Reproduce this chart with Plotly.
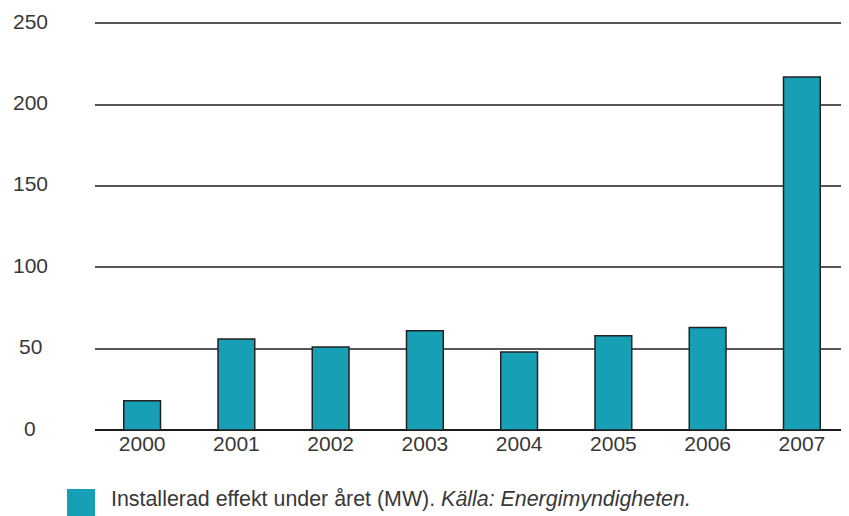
import plotly.graph_objects as go

years = ["2000", "2001", "2002", "2003", "2004", "2005", "2006", "2007"]
installed_mw = [18, 56, 51, 61, 48, 58, 63, 217]
y_ticks = [0, 50, 100, 150, 200, 250]
legend_text = "Installerad effekt under året (MW). <i>Källa: Energimyndigheten.</i>"

# the page body adds an 8px margin; lay out in window pixels minus that offset
OFF = 8
W, H = 849 - OFF, 516 - OFF
L, R, B = 95 - OFF, 0, 516 - 430
PX_PER_UNIT = (430 - 23) / 250
Y_MAX = 252
T = H - B - round(Y_MAX * PX_PER_UNIT)
FONT = "Liberation Sans"
FS = 21
TXT = "#383838"
BAR = "#179fb6"

fig = go.Figure()
fig.add_trace(go.Bar(
    x=years, y=installed_mw, width=0.39,
    marker=dict(color=BAR, line=dict(color="#222222", width=1.5)),
    showlegend=False, hoverinfo="x+y",
))

fig.update_layout(
    width=W, height=H,
    margin=dict(l=L, r=R, t=T, b=B, pad=0, autoexpand=False),
    paper_bgcolor="white", plot_bgcolor="white",
    font=dict(family=FONT, size=FS, color=TXT),
    showlegend=False,
    xaxis=dict(type="category", range=[-0.5, 7.5], showgrid=False,
               showline=False, zeroline=False, ticks="", automargin=False,
               tickfont=dict(size=FS, color=TXT), ticklabelstandoff=-1),
    yaxis=dict(range=[0, Y_MAX], tickvals=y_ticks, showticklabels=False,
               showgrid=True, gridcolor="#555555", gridwidth=1.5,
               zeroline=True, zerolinecolor="#1a1a1a", zerolinewidth=1.8,
               showline=False, ticks="", automargin=False),
)

plot_w = W - L - R
plot_h = H - T - B
for v in y_ticks:
    fig.add_annotation(
        x=(30 - OFF - L) / plot_w, xref="paper", y=v, yref="y",
        text=str(v), showarrow=False, xanchor="center", yanchor="middle",
        yshift=2, font=dict(size=FS, color=TXT, family=FONT),
    )

# legend key
def py(ypix):
    return -((ypix - OFF) - (H - B)) / plot_h

def px(xpix):
    return ((xpix - OFF) - L) / plot_w

fig.add_shape(type="rect", xref="paper", yref="paper",
              x0=px(67), x1=px(95), y0=py(489), y1=py(520),
              fillcolor=BAR, line=dict(width=0), layer="above")
fig.add_annotation(
    x=px(109), xref="paper", y=py(499), yref="paper",
    text=legend_text, showarrow=False, xanchor="left", yanchor="middle",
    font=dict(size=21.4, color=TXT, family=FONT),
)

fig.write_html("out.html")
